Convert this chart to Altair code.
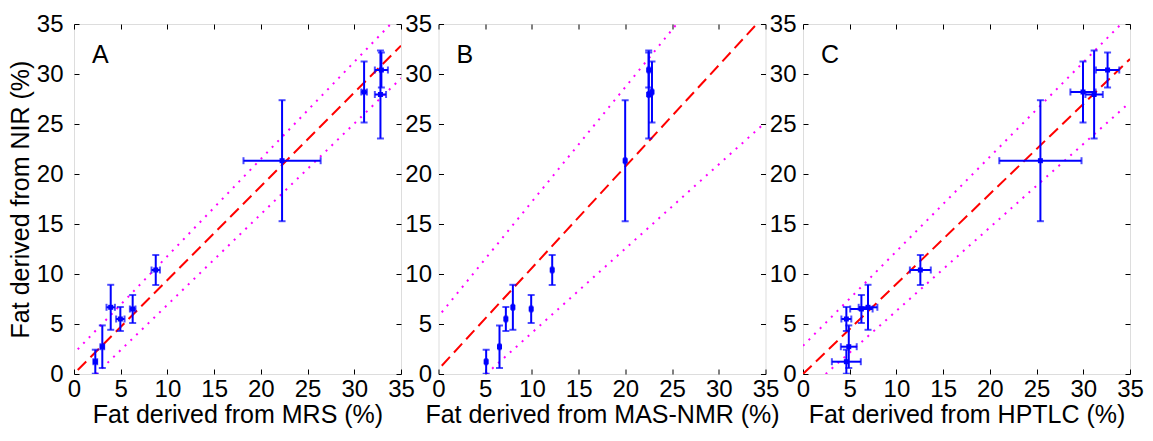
import altair as alt
import pandas as pd

FONT = "Liberation Sans"

# NIR (y) values shared by all panels
nir = [1.23, 2.73, 6.67, 5.50, 6.50, 10.40, 21.33, 28.20, 30.40, 27.95]
nir_err = [1.20, 2.13, 2.25, 1.20, 1.40, 1.50, 6.05, 3.05, 1.75, 4.40]

# reference methods (x)
mrs = [2.28, 3.03, 3.93, 4.96, 6.28, 8.75, 22.27, 31.05, 32.90, 32.80]
mrs_err = [0.20, 0.20, 0.45, 0.45, 0.30, 0.45, 4.13, 0.30, 0.70, 0.60]

mas = [5.10, 6.53, 7.96, 7.21, 9.92, 12.17, 19.98, 22.85, 22.50, 22.50]
mas_err = [0.10, 0.10, 0.10, 0.10, 0.10, 0.10, 0.10, 0.10, 0.10, 0.10]

hptlc = [4.64, 4.90, 6.96, 4.64, 6.25, 12.56, 25.41, 29.97, 32.60, 31.16]
hptlc_err = [1.55, 0.85, 1.00, 0.53, 1.20, 1.12, 4.40, 1.35, 1.25, 0.93]

# lines: x0, x1, y0, y1
mrs_fit = [0.40, 35.0, 0.40, 32.83]
mrs_upper = [0.40, 33.9, 2.47, 35.0]
mrs_lower = [2.36, 35.0, 0.00, 29.57]

mas_fit = [0.35, 34.07, 0.83, 35.0]
mas_upper = [0.35, 25.5, 6.17, 35.0]
mas_lower = [5.10, 35.0, 0.00, 25.17]

hptlc_fit = [0.00, 35.0, 0.00, 31.50]
hptlc_upper = [0.00, 34.05, 2.82, 35.0]
hptlc_lower = [2.43, 35.0, 0.00, 27.17]

ticks = [0, 5, 10, 15, 20, 25, 30, 35]

W, H = 327, 350
BLUE = "#0000FF"


def scale():
    return alt.Scale(domain=[0, 35], nice=False, zero=False)


def main_axis(orient, title, lpad=11):
    kw = dict(
        orient=orient, values=ticks, offset=-5, tickSize=5, domain=False,
        grid=False, tickColor="black", labelFont=FONT, labelFontSize=24,
        labelColor="black", labelFlush=False, labelOverlap=False,
        titleFont=FONT, titleFontSize=25, titleFontWeight="normal",
        titleColor="black", minExtent=0,
    )
    if orient == "bottom":
        kw.update(labelPadding=3, titlePadding=1)
    else:
        kw.update(labelPadding=lpad, titlePadding=3)
    if title is None:
        kw["title"] = None
    else:
        kw["title"] = title
    return alt.Axis(**kw)


def tick_axis(orient):
    return alt.Axis(orient=orient, values=ticks, offset=-5, tickSize=5,
                    domain=False, grid=False, labels=False, title=None,
                    tickColor="black", minExtent=0, maxExtent=0)


def line_df(v):
    return pd.DataFrame({"x": [v[0], v[1]], "y": [v[2], v[3]]})


def panel(xs, xerr, fit, upper, lower, xtitle, ytitle, letter, lpad):
    df = pd.DataFrame({"x": xs, "xe": xerr, "y": nir, "ye": nir_err})
    df["x_lo"] = df.x - df.xe
    df["x_hi"] = df.x + df.xe
    df["y_lo"] = df.y - df.ye
    df["y_hi"] = df.y + df.ye

    base = alt.Chart(df)

    fit_l = alt.Chart(line_df(fit)).mark_line(
        color="#FF0000", strokeWidth=2, strokeDash=[12, 6], clip=True
    ).encode(
        x=alt.X("x:Q", scale=scale(), axis=main_axis("bottom", xtitle)),
        y=alt.Y("y:Q", scale=scale(), axis=main_axis("left", ytitle, lpad)),
    )
    up_l = alt.Chart(line_df(upper)).mark_line(
        color="#FF00FF", strokeWidth=2, strokeDash=[2, 6], clip=True
    ).encode(
        x=alt.X("x:Q", scale=scale(), axis=tick_axis("top")),
        y=alt.Y("y:Q", scale=scale(), axis=tick_axis("right")),
    )
    lo_l = alt.Chart(line_df(lower)).mark_line(
        color="#FF00FF", strokeWidth=2, strokeDash=[2, 6], clip=True
    ).encode(
        x=alt.X("x:Q", scale=scale(), axis=None),
        y=alt.Y("y:Q", scale=scale(), axis=None),
    )
    vbar = base.mark_rule(color=BLUE, strokeWidth=2, clip=True).encode(
        x=alt.X("x:Q", scale=scale(), axis=None),
        y=alt.Y("y_lo:Q", scale=scale(), axis=None),
        y2="y_hi:Q",
    )
    hbar = base.mark_rule(color=BLUE, strokeWidth=2, clip=True).encode(
        y=alt.Y("y:Q", scale=scale(), axis=None),
        x=alt.X("x_lo:Q", scale=scale(), axis=None),
        x2="x_hi:Q",
    )
    caps = []
    for f in ["y_lo", "y_hi"]:
        caps.append(base.mark_tick(color=BLUE, orient="horizontal", size=7,
                                   thickness=2, clip=True).encode(
            x=alt.X("x:Q", scale=scale(), axis=None),
            y=alt.Y(f + ":Q", scale=scale(), axis=None),
        ))
    for f in ["x_lo", "x_hi"]:
        caps.append(base.mark_tick(color=BLUE, orient="vertical", size=7,
                                   thickness=2, clip=True).encode(
            x=alt.X(f + ":Q", scale=scale(), axis=None),
            y=alt.Y("y:Q", scale=scale(), axis=None),
        ))
    pts = base.mark_square(color=BLUE, size=25, opacity=1, clip=True).encode(
        x=alt.X("x:Q", scale=scale(), axis=None),
        y=alt.Y("y:Q", scale=scale(), axis=None),
    )
    txt = alt.Chart(pd.DataFrame({"t": [letter]})).mark_text(
        font=FONT, fontSize=25, align="left", baseline="middle", color="black"
    ).encode(x=alt.value(18), y=alt.value(31), text="t:N")

    return alt.layer(fit_l, up_l, lo_l, vbar, hbar, *caps, pts, txt).resolve_axis(
        x="independent", y="independent"
    ).properties(width=W, height=H)


pA = panel(mrs, mrs_err, mrs_fit, mrs_upper, mrs_lower,
           "Fat derived from MRS (%)", "Fat derived from NIR (%)", "A", 11)
pB = panel(mas, mas_err, mas_fit, mas_upper, mas_lower,
           "Fat derived from MAS-NMR (%)", None, "B", 7)
pC = panel(hptlc, hptlc_err, hptlc_fit, hptlc_upper, hptlc_lower,
           "Fat derived from HPTLC (%)", None, "C", 7)

chart = alt.hconcat(pA, pB, pC, spacing=37.5, bounds="flush").properties(
    padding={"left": 7, "top": 11, "right": 0, "bottom": 0}
).configure_view(stroke="black", strokeWidth=1).configure(background="white")

chart.save("out.html", embed_options={"renderer": "svg", "actions": False})
